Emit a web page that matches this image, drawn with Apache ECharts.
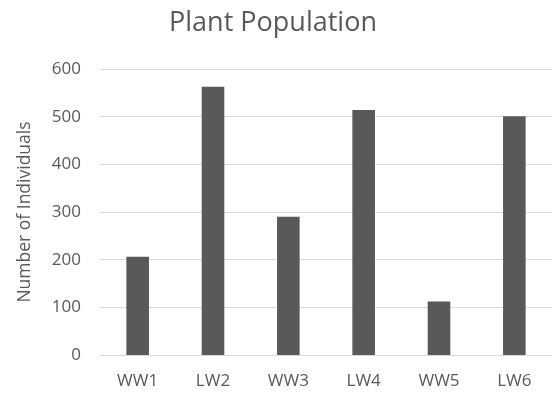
<!DOCTYPE html>
<html>
<head>
<meta charset="utf-8">
<script src="https://cdn.jsdelivr.net/npm/echarts@6/dist/echarts.min.js"></script>
<style>
  html, body { margin: 0; padding: 0; background: #ffffff; }
  #chart { width: 552px; height: 393px; }
</style>
</head>
<body>
<div id="chart"></div>
<script>
// Sites sampled and the number of plants counted at each
const sites = ['WW1', 'LW2', 'WW3', 'LW4', 'WW5', 'LW6'];
const individuals = [206, 563, 290, 514, 112, 501];
const yTicks = { min: 0, max: 600, step: 100 };

const textColor = '#595959';
const fontFamily = '"Open Sans", "Liberation Sans", sans-serif';

const chart = echarts.init(document.getElementById('chart'), null, { renderer: 'canvas' });
chart.setOption({
  animation: false,
  backgroundColor: '#ffffff',
  title: {
    text: 'Plant Population',
    left: 268,
    textAlign: 'center',
    top: 5,
    textStyle: { color: textColor, fontFamily: fontFamily, fontSize: 27, fontWeight: 'normal' }
  },
  grid: { left: 100, right: 0, top: 69, bottom: 38, containLabel: false },
  xAxis: {
    type: 'category',
    data: sites,
    axisLine: { show: true, lineStyle: { color: '#d9d9d9', width: 1 } },
    axisTick: { show: false },
    axisLabel: { color: textColor, fontFamily: fontFamily, fontSize: 17, margin: 18 }
  },
  yAxis: {
    type: 'value',
    min: yTicks.min,
    max: yTicks.max,
    interval: yTicks.step,
    name: 'Number of Individuals',
    nameLocation: 'middle',
    nameGap: 66,
    nameTextStyle: { color: textColor, fontFamily: fontFamily, fontSize: 17.5 },
    axisLine: { show: false },
    axisTick: { show: false },
    axisLabel: { color: textColor, fontFamily: fontFamily, fontSize: 17, margin: 19 },
    splitLine: { lineStyle: { color: '#d9d9d9', width: 1 } }
  },
  series: [{
    type: 'bar',
    data: individuals,
    barWidth: '30%',
    itemStyle: { color: '#595959' }
  }]
});
</script>
</body>
</html>
